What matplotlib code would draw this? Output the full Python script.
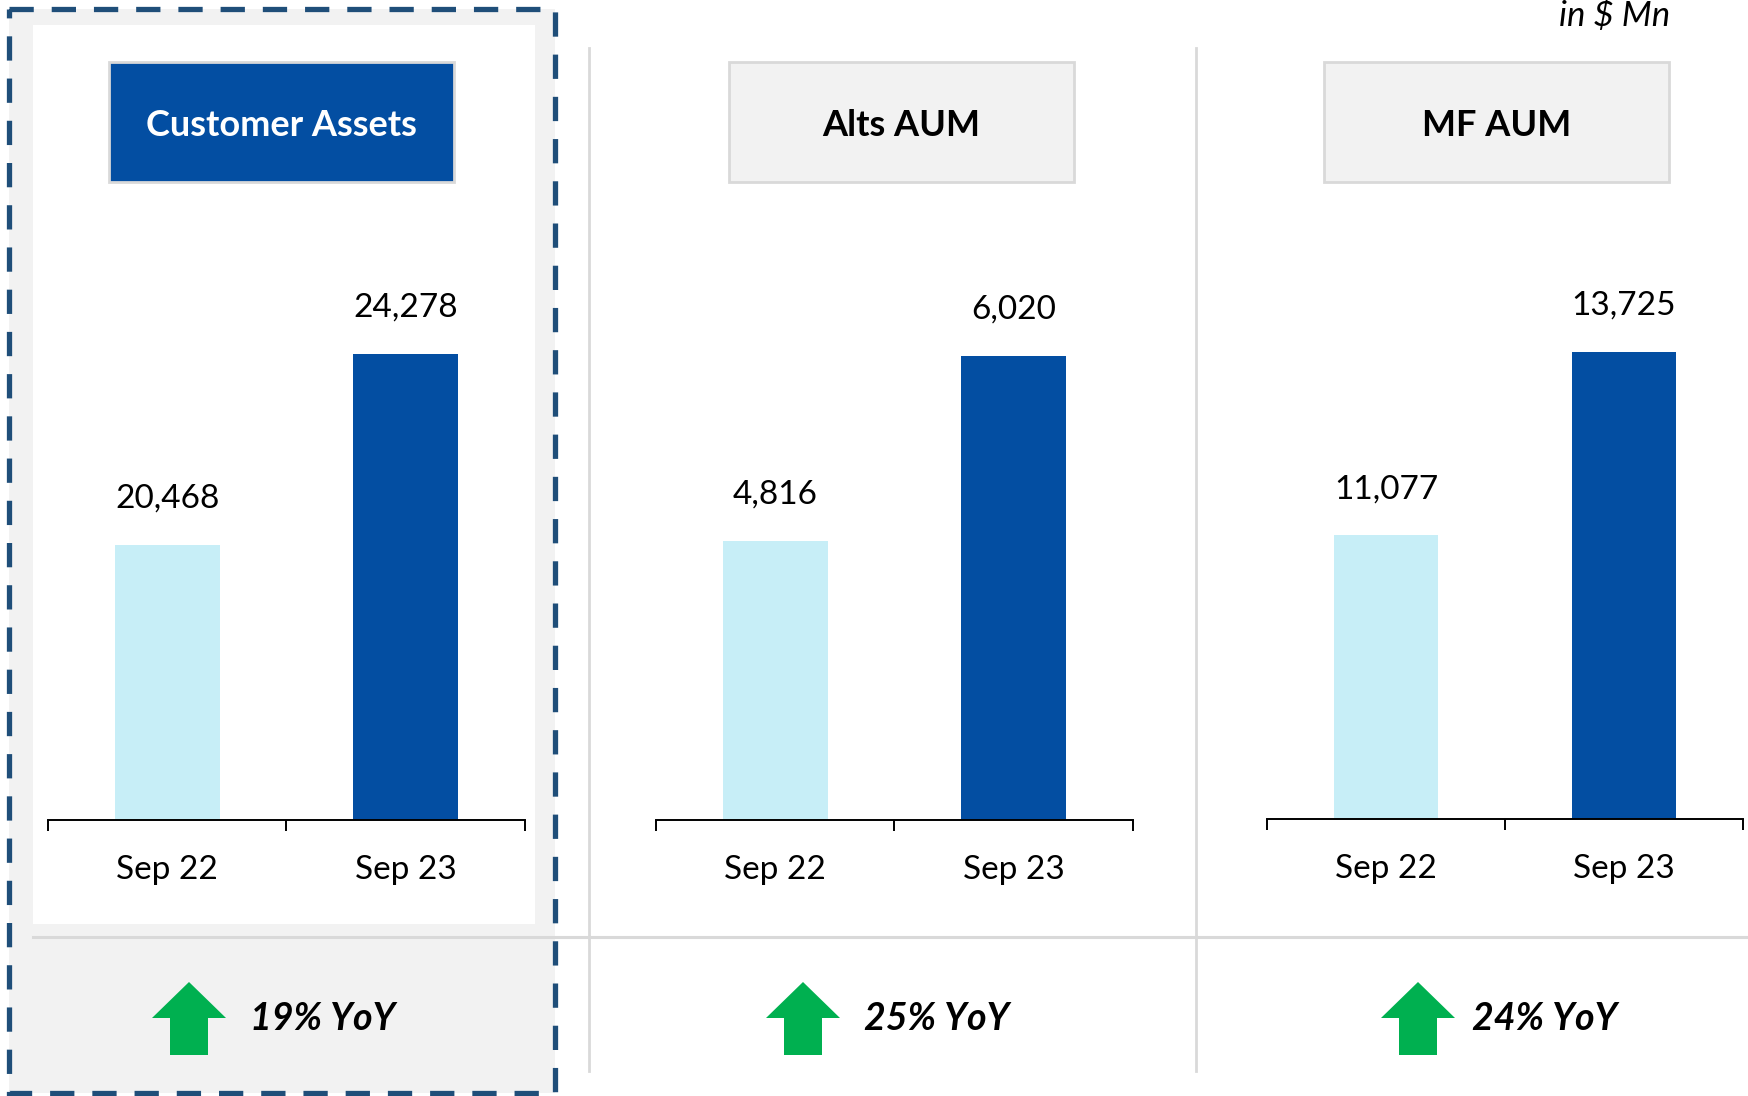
import matplotlib
matplotlib.use("Agg")
import matplotlib.pyplot as plt
from matplotlib.patches import Rectangle, Polygon
from matplotlib.lines import Line2D

# ---- data ----
periods = ["Sep 22", "Sep 23"]
titles = ["Customer Assets", "Alts AUM", "MF AUM"]
customer_assets = [20468, 24278]
alts_aum = [4816, 6020]
mf_aum = [11077, 13725]
yoy_labels = ["19% YoY", "25% YoY", "24% YoY"]
unit_label = "in $ Mn"

W, H = 1749, 1096
DARK = "#034EA2"
LIGHT = "#C7EEF7"
GREY_FILL = "#F2F2F2"
GREY_LINE = "#D9D9D9"
GREEN = "#00B050"
FONT = "Lato"

plt.rcParams["font.family"] = [FONT, "DejaVu Sans"]

fig = plt.figure(figsize=(W / 100, H / 100), dpi=100)
bg = fig.add_axes([0, 0, 1, 1])
bg.set_xlim(0, W)
bg.set_ylim(H, 0)
bg.axis("off")

# highlighted first panel: grey frame, white inner card, dashed outline
bg.add_patch(Rectangle((9, 9), 546, 1084, facecolor=GREY_FILL, edgecolor="none", zorder=0))
bg.add_patch(Rectangle((33, 25), 502, 899, facecolor="white", edgecolor="none", zorder=1))
bg.add_patch(Rectangle((9, 9), 546, 1084, fill=False, edgecolor="#1F4E79", lw=3.8,
                       linestyle=(0, (4.6, 3.4)), zorder=5))

# separators
bg.add_line(Line2D([33, W], [937, 937], color=GREY_LINE, lw=2.2, zorder=2))
for sx in (589, 1196):
    bg.add_line(Line2D([sx, sx], [48, 1071], color=GREY_LINE, lw=2, zorder=2))

# title boxes
box_x = [109, 729, 1324]
for i, (bx, t) in enumerate(zip(box_x, titles)):
    first = i == 0
    bg.add_patch(Rectangle((bx, 62), 345, 120, facecolor=DARK if first else GREY_FILL,
                           edgecolor=GREY_LINE, lw=2, zorder=3))
    bg.text(bx + 172.5, 126, t, ha="center", va="center", fontsize=26, fontweight="bold",
            color="white" if first else "black", zorder=4)

bg.text(1670, 26, unit_label, ha="right", va="baseline", fontsize=25, style="italic", zorder=4)

# YoY arrows + text
arrow_cx = [189, 803, 1418]
text_x = [250, 864, 1472]
for cx, tx, lab in zip(arrow_cx, text_x, yoy_labels):
    pts = [(cx, 982), (cx + 37, 1018), (cx + 19, 1018), (cx + 19, 1055),
           (cx - 19, 1055), (cx - 19, 1018), (cx - 37, 1018)]
    bg.add_patch(Polygon(pts, closed=True, facecolor=GREEN, edgecolor="none", zorder=3))
    bg.text(tx, 1019, lab, ha="left", va="center", fontsize=27, fontweight="bold",
            style="italic", zorder=4)

# bar panels
panels = [
    (customer_assets, 48, 525, 820, (14982, 26352)),
    (alts_aum, 656, 1133, 820, (3001, 6709)),
    (mf_aum, 1267, 1743, 819, (6990, 15191)),
]
top_px = 250
for values, x0, x1, base, ylim in panels:
    ax = fig.add_axes([x0 / W, 1 - base / H, (x1 - x0) / W, (base - top_px) / H])
    ax.patch.set_alpha(0)
    ax.bar([0, 1], values, width=0.44, color=[LIGHT, DARK], zorder=2)
    ax.set_xlim(-0.5, 1.5)
    ax.set_ylim(*ylim)
    for xi, v in enumerate(values):
        ax.annotate(f"{v:,}", (xi, v), xytext=(0, 46), textcoords="offset pixels",
                    ha="center", va="center", fontsize=24)
    for s in ("left", "right", "top"):
        ax.spines[s].set_visible(False)
    ax.spines["bottom"].set_linewidth(1.4)
    ax.set_yticks([])
    ax.set_xticks([-0.5, 0.5, 1.5])
    ax.set_xticklabels([])
    ax.tick_params(axis="x", which="major", direction="out", length=8, width=1.4)
    ax.set_xticks([0, 1], minor=True)
    ax.set_xticklabels(periods, minor=True, fontsize=24)
    ax.tick_params(axis="x", which="minor", length=0, pad=25)

fig.savefig("out.png", dpi=100)
